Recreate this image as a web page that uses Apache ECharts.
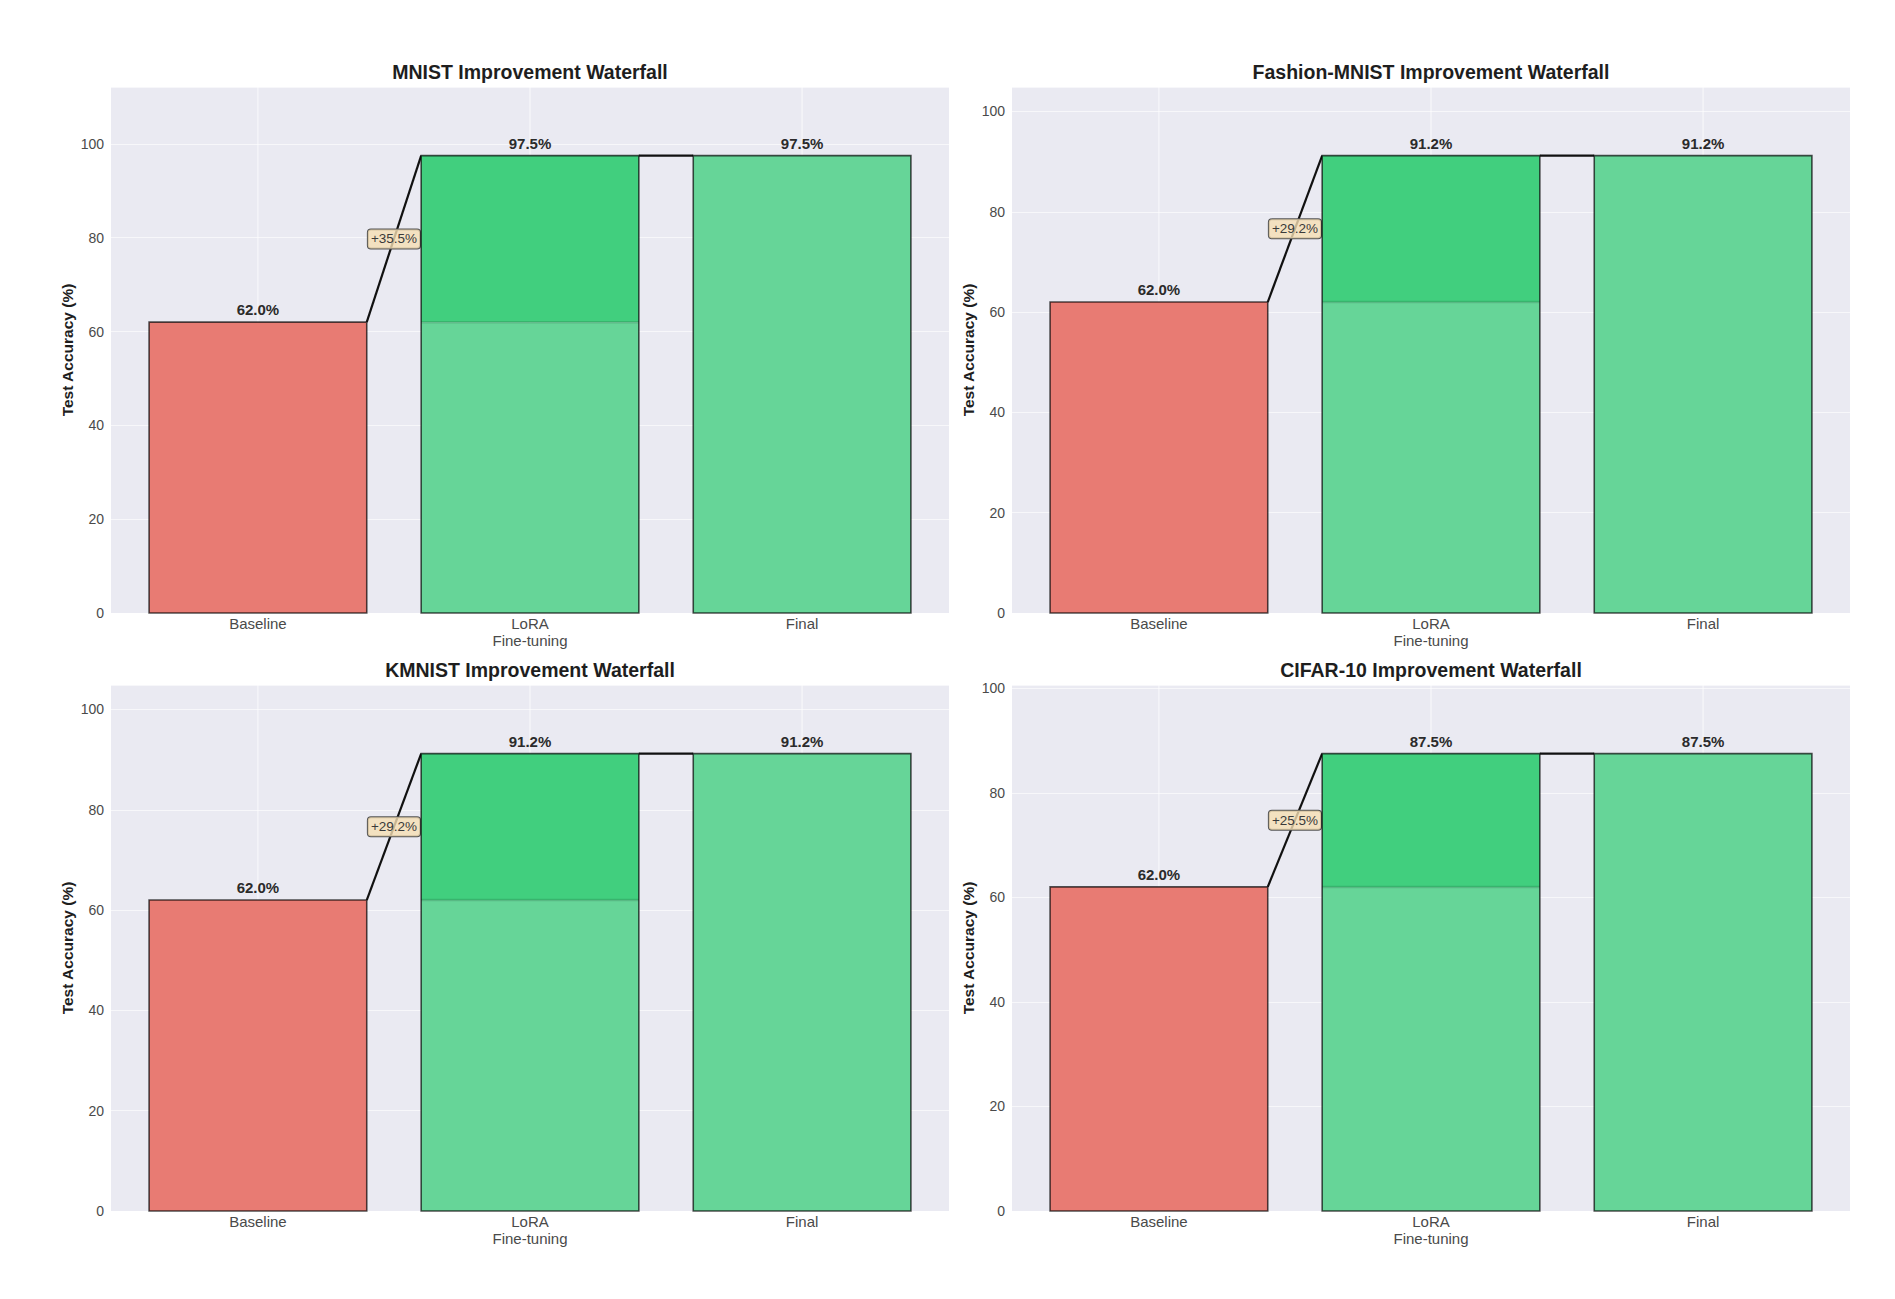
<!DOCTYPE html>
<html><head><meta charset="utf-8">
<script src="https://cdn.jsdelivr.net/npm/echarts@6/dist/echarts.min.js"></script>
<style>html,body{margin:0;padding:0;background:#fff}#c{width:1895px;height:1299px}</style>
</head><body><div id="c"></div>
<script>
// ---- data ----
const categories = ['Baseline', 'LoRA\nFine-tuning', 'Final'];
const datasets = ['MNIST', 'Fashion-MNIST', 'KMNIST', 'CIFAR-10'];
const baselineAcc = [62.0, 62.0, 62.0, 62.0];
const loraGain = [35.5, 29.2, 29.2, 25.5];
const finalAcc = [97.5, 91.2, 91.2, 87.5];
const yTickStep = 20;

// ---- layout / style ----
const panels = [
  {left: 111, top: 87, width: 838, height: 526},
  {left: 1012, top: 87, width: 838, height: 526},
  {left: 111, top: 685, width: 838, height: 526},
  {left: 1012, top: 685, width: 838, height: 526}
];
const FONT = '"Liberation Sans", Arial, sans-serif';
const C_BASE = '#E87B73', C_LIGHT = '#66D598', C_DARK = '#41CF7E';
const EDGE = 'rgba(0,0,0,0.68)';
const HALF = 0.4;

function makeRender(k) {
  return function (params, api) {
    const i = api.value(0);
    const base = baselineAcc[k], fin = finalAcc[k], gain = loraGain[k];
    const top = i === 0 ? base : fin;
    const children = [];
    const g0 = api.coord([i, 0]);
    const gTop = api.coord([i, finalAcc[k] * 1.15]);
    // vertical grid line at category center
    children.push({type: 'line', shape: {x1: g0[0], y1: g0[1], x2: gTop[0], y2: gTop[1]},
      style: {stroke: '#ffffff', lineWidth: 1, opacity: 0.75}, silent: true});
    const p00 = api.coord([i - HALF, 0]);
    const p1t = api.coord([i + HALF, top]);
    const pb = api.coord([i + HALF, base]);
    if (i === 1) {
      children.push({type: 'rect', shape: {x: p00[0], y: pb[1], width: p1t[0] - p00[0], height: p00[1] - pb[1]},
        style: {fill: C_LIGHT}});
      children.push({type: 'rect', shape: {x: p00[0], y: p1t[1], width: p1t[0] - p00[0], height: pb[1] - p1t[1]},
        style: {fill: C_DARK}});
      children.push({type: 'line', shape: {x1: p00[0], y1: pb[1], x2: p1t[0], y2: pb[1]},
        style: {stroke: 'rgba(0,0,0,0.13)', lineWidth: 2.5}});
      children.push({type: 'rect', shape: {x: p00[0], y: p1t[1], width: p1t[0] - p00[0], height: p00[1] - p1t[1]},
        style: {fill: 'none', stroke: EDGE, lineWidth: 1.6}});
    } else {
      children.push({type: 'rect', shape: {x: p00[0], y: p1t[1], width: p1t[0] - p00[0], height: p00[1] - p1t[1]},
        style: {fill: i === 0 ? C_BASE : C_LIGHT, stroke: EDGE, lineWidth: 1.6}});
    }
    // value label
    const pc = api.coord([i, top]);
    children.push({type: 'text', x: pc[0], y: pc[1] - 5,
      style: {text: top.toFixed(1) + '%', align: 'center', verticalAlign: 'bottom',
        font: 'bold 15px ' + FONT, fill: '#2b2b2b'}});
    // connectors
    if (i === 0) {
      const a = api.coord([i + HALF, base]);
      const b = api.coord([i + 1 - HALF, fin]);
      children.push({type: 'line', shape: {x1: a[0], y1: a[1], x2: b[0], y2: b[1]},
        style: {stroke: '#111', lineWidth: 2.2}});
      const m = api.coord([i + 0.5, (base + fin) / 2]);
      children.push({type: 'text', x: m[0], y: m[1],
        style: {text: '+' + gain.toFixed(1) + '%', align: 'center', verticalAlign: 'middle',
          font: '13.5px ' + FONT, fill: '#3a3a3a',
          backgroundColor: 'rgba(245,222,179,0.8)', borderColor: '#555', borderWidth: 1,
          borderRadius: 3, padding: [3, 3, 2, 3]}});
    } else if (i === 1) {
      const a = api.coord([i + HALF, fin]);
      const b = api.coord([i + 1 - HALF, fin]);
      children.push({type: 'line', shape: {x1: a[0], y1: a[1], x2: b[0], y2: b[1]},
        style: {stroke: '#111', lineWidth: 2.2}});
    }
    return {type: 'group', children: children};
  };
}

const option = {
  animation: false,
  backgroundColor: '#ffffff',
  textStyle: {fontFamily: FONT},
  title: [], grid: [], xAxis: [], yAxis: [], series: []
};

panels.forEach((p, k) => {
  option.title.push({
    text: datasets[k] + ' Improvement Waterfall',
    left: p.left + p.width / 2, top: p.top - 25, textAlign: 'center', padding: 0,
    textStyle: {fontSize: 19.5, fontWeight: 'bold', color: '#1e1e1e', fontFamily: FONT}
  });
  option.grid.push({left: p.left, top: p.top, width: p.width, height: p.height,
    show: true, backgroundColor: '#EAEAF2', borderWidth: 0, containLabel: false});
  option.xAxis.push({
    type: 'value', gridIndex: k, min: -0.54, max: 2.54,
    axisLine: {show: false}, axisTick: {show: false}, splitLine: {show: false},
    axisLabel: {
      customValues: [0, 1, 2],
      formatter: v => (Number.isInteger(v) && categories[v]) ? categories[v] : '',
      color: '#4a4a4a', fontSize: 15, margin: 2, lineHeight: 17, fontFamily: FONT
    }
  });
  option.yAxis.push({
    type: 'value', gridIndex: k, min: 0, max: finalAcc[k] * 1.15, interval: yTickStep,
    axisLine: {show: false}, axisTick: {show: false},
    splitLine: {show: true, lineStyle: {color: 'rgba(255,255,255,0.6)', width: 1}},
    axisLabel: {formatter: v => (v % yTickStep === 0 ? String(v) : ''), color: '#4a4a4a',
      fontSize: 14, margin: 7, fontFamily: FONT},
    name: 'Test Accuracy (%)', nameLocation: 'middle', nameGap: 36,
    nameTextStyle: {fontSize: 15.5, fontWeight: 'bold', color: '#1e1e1e', fontFamily: FONT}
  });
  option.series.push({
    type: 'custom', xAxisIndex: k, yAxisIndex: k, clip: false,
    data: categories.map((c, i) => [i, i === 0 ? baselineAcc[k] : finalAcc[k]]),
    encode: {x: 0, y: 1},
    renderItem: makeRender(k)
  });
});

const chart = echarts.init(document.getElementById('c'), null, {renderer: 'svg'});
chart.setOption(option);
</script>
</body></html>
